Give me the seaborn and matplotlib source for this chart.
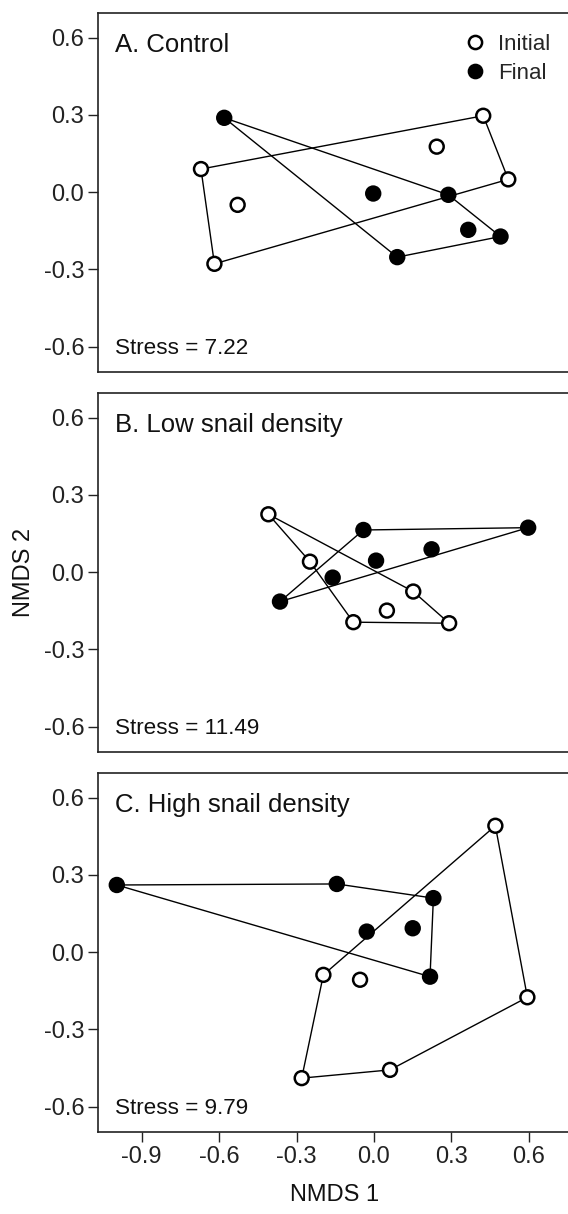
import numpy as np
import pandas as pd
import matplotlib
matplotlib.use('Agg')
import matplotlib.pyplot as plt
from matplotlib.lines import Line2D
import seaborn as sns

# NMDS scores (Initial = open, Final = filled)
panels = ['A. Control', 'B. Low snail density', 'C. High snail density']
stress = ['Stress = 7.22', 'Stress = 11.49', 'Stress = 9.79']

a_init_x = [-0.670, -0.528, -0.618, 0.423, 0.243, 0.520]
a_init_y = [0.090, -0.049, -0.278, 0.297, 0.177, 0.050]
a_final_x = [-0.580, -0.003, 0.288, 0.365, 0.490, 0.090]
a_final_y = [0.289, -0.005, -0.010, -0.146, -0.172, -0.252]

b_init_x = [-0.409, -0.248, 0.152, 0.050, -0.080, 0.291]
b_init_y = [0.225, 0.041, -0.075, -0.149, -0.194, -0.198]
b_final_x = [-0.041, 0.597, 0.223, 0.008, -0.160, -0.364]
b_final_y = [0.164, 0.173, 0.089, 0.045, -0.021, -0.114]

c_init_x = [0.470, -0.196, -0.054, 0.594, 0.062, -0.280]
c_init_y = [0.491, -0.088, -0.107, -0.175, -0.457, -0.489]
c_final_x = [-0.996, -0.144, 0.230, -0.028, 0.150, 0.217]
c_final_y = [0.261, 0.265, 0.210, 0.080, 0.093, -0.095]

# hull vertex order (indices into the arrays above)
a_init_hull = [0, 3, 5, 2]
a_final_hull = [0, 2, 4, 5]
b_init_hull = [0, 2, 5, 4, 1]
b_final_hull = [5, 0, 1]
c_init_hull = [0, 3, 4, 5, 1]
c_final_hull = [0, 1, 2, 5]

ticks = [-0.9, -0.6, -0.3, 0.0, 0.3, 0.6]
yticks = [0.6, 0.3, 0.0, -0.3, -0.6]

data = [
    (a_init_x, a_init_y, a_final_x, a_final_y, a_init_hull, a_final_hull),
    (b_init_x, b_init_y, b_final_x, b_final_y, b_init_hull, b_final_hull),
    (c_init_x, c_init_y, c_final_x, c_final_y, c_init_hull, c_final_hull),
]

sns.set_theme(style='ticks')
plt.rcParams['font.family'] = ['Liberation Sans', 'DejaVu Sans']
plt.rcParams['axes.unicode_minus'] = False

fig = plt.figure(figsize=(5.68, 12.14), dpi=100)
left, width, height = 0.1729, 0.8306, 0.2957
bottoms = [0.6938, 0.3808, 0.0678]

for i, (ix, iy, fx, fy, ih, fh) in enumerate(data):
    ax = fig.add_axes([left, bottoms[i], width, height])
    for xs, ys, hull in [(ix, iy, ih), (fx, fy, fh)]:
        hx = np.array(xs)[hull + [hull[0]]]
        hy = np.array(ys)[hull + [hull[0]]]
        ax.plot(hx, hy, color='black', lw=1.0, zorder=2)
    df = pd.DataFrame({
        'x': ix + fx,
        'y': iy + fy,
        'stage': ['Initial'] * len(ix) + ['Final'] * len(fx),
    })
    sns.scatterplot(data=df, x='x', y='y', hue='stage',
                    palette={'Initial': 'white', 'Final': 'black'},
                    edgecolor='black', linewidth=1.8, s=100,
                    legend=False, ax=ax, zorder=3)
    ax.set_xlim(-1.068, 0.759)
    ax.set_ylim(-0.697, 0.697)
    ax.set_yticks(yticks)
    ax.set_yticklabels([f'{t:.1f}' for t in yticks])
    ax.tick_params(axis='both', length=7, width=1, labelsize=17, pad=3,
                   colors='#222222')
    for sp in ax.spines.values():
        sp.set_linewidth(1.2)
        sp.set_color('#222222')
    ax.text(0.0356, 0.890, panels[i], transform=ax.transAxes,
            fontsize=18.5, va='baseline', ha='left', color='#111111')
    ax.text(0.0356, 0.049, stress[i], transform=ax.transAxes,
            fontsize=16.2, va='baseline', ha='left', color='#111111')
    ax.set_xlabel('')
    ax.set_ylabel('')
    if i == 2:
        ax.set_xticks(ticks)
        ax.set_xticklabels([f'{t:.1f}' for t in ticks])
        ax.set_xlabel('NMDS 1', fontsize=17, labelpad=12, color='#111111')
    else:
        ax.set_xticks([])
    if i == 1:
        ax.set_ylabel('NMDS 2', fontsize=17, labelpad=6, color='#111111')
    if i == 0:
        handles = [
            Line2D([], [], ls='none', marker='o', ms=9.5, mfc='white',
                   mec='black', mew=1.8, label='Initial'),
            Line2D([], [], ls='none', marker='o', ms=9.5, mfc='black',
                   mec='black', mew=1.8, label='Final'),
        ]
        ax.legend(handles=handles, loc='upper left',
                  bbox_to_anchor=(0.72, 1.0), frameon=False,
                  fontsize=16, handletextpad=0.35, labelspacing=0.35,
                  borderaxespad=0.55, handlelength=1.4)

fig.savefig('out.png', dpi=100, facecolor='white')
